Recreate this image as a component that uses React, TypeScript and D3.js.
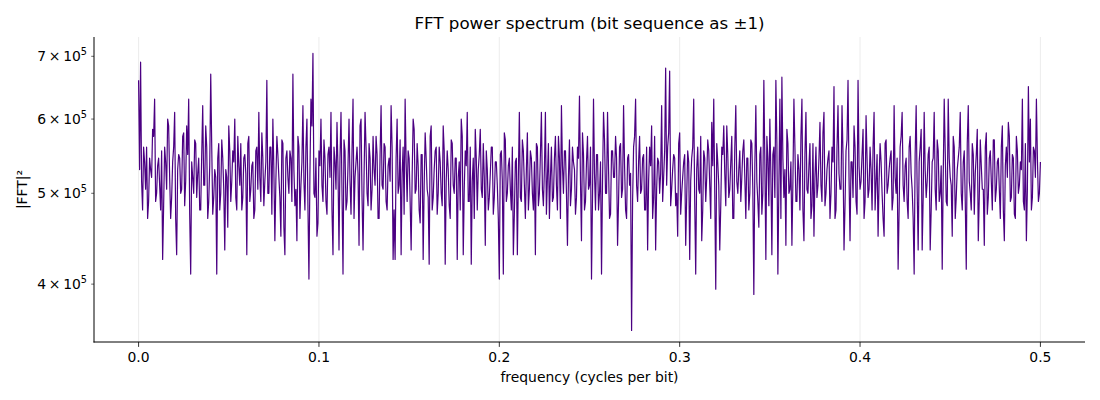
import { useEffect, useRef } from 'react';
import * as d3 from 'd3';

// |FFT|^2 values, in thousands, at even bins (every 1/900 cycles per bit, 0 .. 0.5)
const evenBins: number[] = [
  660, 690, 480, 540, 560, 490, 530, 585, 630, 500, 545, 480, 425, 560, 505, 590, 470, 540, 610, 430, 550, 500, 575, 485, 590,
  630, 410, 520, 570, 495, 545, 480, 620, 510, 560, 490, 670, 475, 530, 410, 565, 500, 545, 435, 520, 590, 490, 555, 600, 480,
  535, 565, 495, 550, 430, 575, 505, 540, 480, 560, 610, 490, 545, 515, 660, 500, 560, 600, 445, 575, 520, 450, 565, 430, 555,
  500, 545, 670, 485, 445, 560, 510, 620, 480, 600, 405, 630, 705, 495, 450, 555, 600, 490, 545, 475, 560, 610, 430, 540, 595,
  435, 610, 410, 555, 490, 600, 475, 630, 520, 560, 440, 600, 435, 610, 500, 565, 480, 575, 510, 550, 470, 620, 505, 560, 480,
  545, 620, 425, 425, 600, 510, 430, 560, 630, 490, 545, 435, 600, 500, 565, 480, 550, 425, 580, 505, 420, 590, 495, 555, 475,
  560, 500, 590, 420, 555, 485, 570, 510, 545, 425, 540, 600, 430, 555, 610, 490, 420, 545, 585, 480, 550, 505, 565, 440, 530,
  495, 560, 475, 540, 510, 405, 555, 410, 570, 500, 545, 480, 430, 540, 430, 610, 490, 555, 470, 580, 505, 545, 480, 430, 560,
  500, 610, 485, 610, 520, 470, 560, 495, 575, 480, 545, 620, 500, 555, 440, 570, 505, 540, 475, 560, 635, 445, 550, 490, 575,
  510, 405, 630, 480, 550, 500, 410, 610, 500, 610, 470, 555, 520, 575, 440, 560, 495, 620, 480, 545, 510, 357, 560, 630, 490,
  575, 505, 550, 480, 435, 560, 590, 495, 435, 545, 500, 620, 520, 680, 560, 675, 505, 550, 485, 450, 580, 500, 540, 440, 555,
  425, 545, 630, 410, 560, 500, 445, 555, 490, 570, 510, 595, 630, 395, 540, 435, 560, 590, 485, 550, 505, 575, 470, 620, 500,
  555, 520, 570, 470, 545, 500, 565, 390, 620, 490, 550, 475, 660, 425, 545, 600, 430, 560, 660, 410, 630, 665, 495, 440, 565,
  505, 440, 630, 490, 550, 480, 630, 445, 610, 500, 565, 485, 450, 560, 510, 595, 490, 610, 500, 545, 470, 560, 650, 480, 620,
  505, 620, 435, 555, 660, 445, 540, 590, 490, 660, 505, 550, 470, 605, 495, 560, 480, 610, 515, 450, 565, 500, 450, 570, 510,
  545, 480, 620, 500, 415, 560, 610, 490, 545, 470, 575, 505, 410, 620, 435, 560, 435, 610, 495, 550, 435, 540, 610, 480, 555,
  500, 415, 630, 490, 630, 520, 450, 560, 495, 545, 610, 480, 555, 415, 620, 500, 565, 475, 550, 445, 570, 505, 440, 580, 495,
  555, 480, 570, 505, 545, 470, 590, 445, 560, 595, 490, 550, 475, 575, 500, 540, 630, 480, 445, 650, 600, 495, 555, 630, 490, 540,
];

// |FFT|^2 values, in thousands, at the odd bins in between
const oddBins: number[] = [
  530, 515, 560, 505, 470, 545, 520, 575, 490, 535, 510, 555, 485, 540, 600, 520, 495, 560, 470, 530, 545, 505, 580, 515, 550,
  475, 540, 500, 565, 525, 480, 550, 510, 590, 470, 535, 560, 495, 520, 545, 480, 570, 505, 530, 460, 555, 515, 540, 495, 575,
  510, 480, 545, 525, 565, 490, 535, 470, 555, 505, 520, 580, 485, 540, 500, 560, 475, 530, 515, 550, 495, 570, 460, 545, 520,
  555, 490, 530, 505, 575, 470, 540, 515, 560, 485, 525, 590, 500, 545, 465, 535, 510, 570, 490, 550, 520, 480, 560, 505, 530,
  545, 500, 570, 480, 535, 515, 555, 470, 540, 525, 590, 495, 520, 560, 485, 545, 505, 530, 575, 470, 550, 510, 565, 490, 535,
  515, 560, 480, 545, 500, 570, 525, 475, 540, 555, 490, 520, 585, 505, 535, 465, 550, 510, 545, 495, 575, 480, 530, 560, 500,
  540, 485, 555, 515, 530, 470, 565, 500, 545, 520, 480, 575, 505, 535, 490, 560, 515, 470, 545, 530, 585, 495, 520, 555, 480,
  525, 560, 495, 540, 470, 550, 515, 580, 490, 535, 505, 560, 475, 545, 520, 495, 570, 510, 530, 480, 555, 500, 540, 565, 485,
  550, 505, 530, 475, 565, 520, 490, 545, 510, 575, 470, 535, 555, 500, 520, 485, 560, 530, 495, 545, 515, 580, 480, 540, 505,
  560, 495, 525, 550, 480, 540, 515, 570, 500, 530, 475, 555, 520, 545, 490, 565, 505, 535, 470, 550, 525, 490, 575, 510, 540,
  500, 545, 480, 560, 515, 535, 470, 575, 505, 540, 525, 490, 555, 510, 580, 485, 530, 545, 500, 565, 475, 520, 550, 495, 540,
  515, 560, 490, 530, 505, 575, 480, 545, 520, 555, 470, 535, 500, 565, 510, 485, 550, 525, 590, 495, 540, 470, 560, 515, 530,
  490, 555, 520, 545, 480, 570, 505, 535, 515, 460, 560, 500, 540, 575, 485, 525, 550, 495, 565, 510, 470, 545, 530, 585, 500,
  540, 515, 560, 490, 530, 575, 480, 550, 505, 535, 470, 565, 520, 495, 545, 510, 580, 485, 530, 555, 500, 540, 470, 560, 525,
  505, 550, 485, 570, 520, 540, 495, 560, 475, 535, 515, 585, 490, 545, 505, 530, 560, 480, 550, 515, 540, 470, 565, 500, 530,
  555, 495, 520, 545, 480, 575, 510, 535, 490, 560, 525, 470, 550, 505, 540, 585, 495, 530, 515, 560, 480, 545, 505, 570, 490,
  535, 520, 555, 485, 545, 510, 575, 470, 530, 560, 500, 540, 490, 565, 515, 480, 550, 525, 585, 495, 535, 505, 560, 475, 545,
  515, 570, 490, 540, 505, 560, 480, 535, 520, 575, 495, 545, 470, 555, 510, 530, 490, 565, 505, 540, 480, 560, 520, 545, 500,
];

const xTicks = [0, 0.1, 0.2, 0.3, 0.4, 0.5];
const yTicks = [4, 5, 6, 7]; // x 10^5

export default function App() {
  const svgRef = useRef<SVGSVGElement>(null);

  useEffect(() => {
    if (!svgRef.current) return;
    document.body.style.margin = '0';
    const width = 1100;
    const height = 400;
    const svg = d3.select(svgRef.current);
    svg.selectAll('*').remove();
    svg.attr('width', width).attr('height', height);

    const left = 94, right = 1085, top = 37, bottom = 342;
    const font = 'DejaVu Sans, sans-serif';

    // interleave even and odd bins into one spectrum
    const power: number[] = [];
    evenBins.forEach((v, i) => {
      power.push(v);
      if (i < oddBins.length) power.push(oddBins[i]);
    });
    const data = power.map((p, i) => ({ f: (i * 0.5) / (power.length - 1), p: p * 1000 }));

    const x = d3.scaleLinear().domain([-0.025, 0.525]).range([left - 0.5, right + 0.5]);
    const y = d3.scaleLog().domain([3.47e5, 7.34e5]).range([bottom, top]);

    // Grid
    svg.append('g')
      .selectAll('line')
      .data(xTicks)
      .join('line')
      .attr('x1', d => x(d))
      .attr('x2', d => x(d))
      .attr('y1', top)
      .attr('y2', bottom)
      .attr('stroke', '#b0b0b0')
      .attr('stroke-opacity', 0.3)
      .attr('stroke-width', 0.8);

    // Spectrum
    const line = d3.line<{ f: number; p: number }>()
      .x(d => x(d.f))
      .y(d => y(d.p));

    svg.append('path')
      .datum(data)
      .attr('d', line)
      .attr('fill', 'none')
      .attr('stroke', '#4b0082')
      .attr('stroke-width', 1.2)
      .attr('stroke-linejoin', 'round');

    // Spines
    svg.append('line')
      .attr('x1', left).attr('x2', left)
      .attr('y1', top).attr('y2', bottom + 0.5)
      .attr('stroke', '#000').attr('stroke-width', 1);
    svg.append('line')
      .attr('x1', left - 0.5).attr('x2', right)
      .attr('y1', bottom).attr('y2', bottom)
      .attr('stroke', '#000').attr('stroke-width', 1);

    // X ticks
    const xg = svg.append('g');
    xTicks.forEach(t => {
      xg.append('line')
        .attr('x1', x(t)).attr('x2', x(t))
        .attr('y1', bottom).attr('y2', bottom + 4.9)
        .attr('stroke', '#000').attr('stroke-width', 0.8);
      xg.append('text')
        .attr('x', x(t))
        .attr('y', bottom + 20)
        .attr('text-anchor', 'middle')
        .attr('font-family', font)
        .attr('font-size', '13.9px')
        .attr('fill', '#000')
        .text(t.toFixed(1));
    });

    // Y ticks (log minor ticks with labels)
    const yg = svg.append('g');
    yTicks.forEach(t => {
      const yy = y(t * 1e5);
      yg.append('line')
        .attr('x1', left - 2.8).attr('x2', left)
        .attr('y1', yy).attr('y2', yy)
        .attr('stroke', '#000').attr('stroke-width', 0.6);
      const label = yg.append('text')
        .attr('x', left - 7)
        .attr('y', yy + 5)
        .attr('text-anchor', 'end')
        .attr('font-family', font)
        .attr('font-size', '13.9px')
        .attr('fill', '#000');
      label.append('tspan').text(`${t}\u2009×\u200910`);
      label.append('tspan')
        .attr('font-size', '9.7px')
        .attr('dy', '-6')
        .text('5');
    });

    // Title and labels
    svg.append('text')
      .attr('x', (left + right) / 2)
      .attr('y', 29)
      .attr('text-anchor', 'middle')
      .attr('font-family', font)
      .attr('font-size', '16.7px')
      .attr('fill', '#000')
      .text('FFT power spectrum (bit sequence as ±1)');

    svg.append('text')
      .attr('x', (left + right) / 2)
      .attr('y', 382)
      .attr('text-anchor', 'middle')
      .attr('font-family', font)
      .attr('font-size', '13.9px')
      .attr('fill', '#000')
      .text('frequency (cycles per bit)');

    svg.append('text')
      .attr('transform', `translate(27, ${(top + bottom) / 2}) rotate(-90)`)
      .attr('text-anchor', 'middle')
      .attr('font-family', font)
      .attr('font-size', '13.9px')
      .attr('fill', '#000')
      .text('|FFT|²');
  }, []);

  return <svg ref={svgRef} style={{ display: 'block', background: '#fff' }} />;
}
